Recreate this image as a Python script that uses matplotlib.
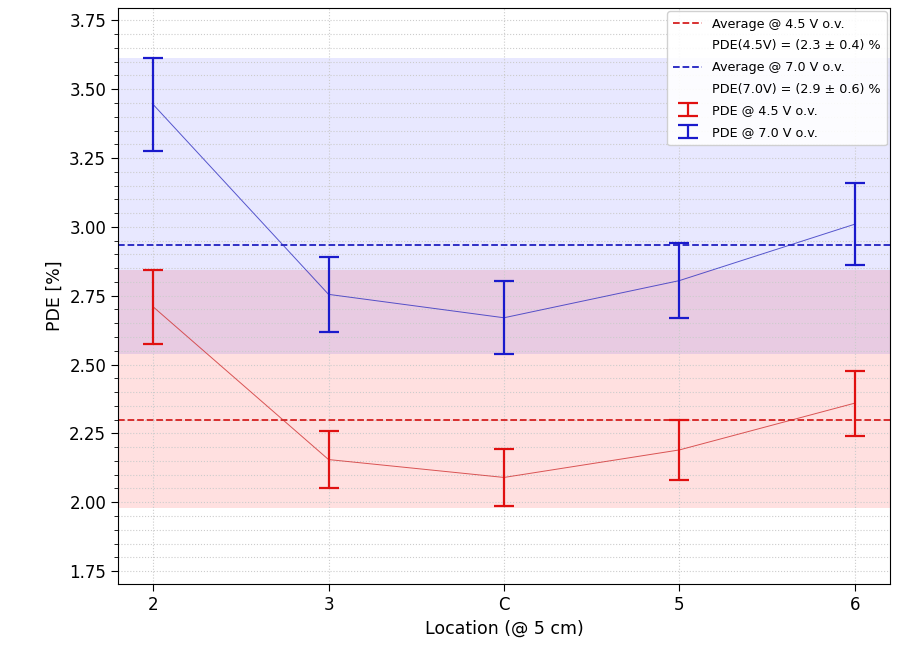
import matplotlib
matplotlib.use("Agg")
import matplotlib.pyplot as plt
from matplotlib.ticker import MultipleLocator
import numpy as np

locations = ["2", "3", "C", "5", "6"]
pde_45 = [2.71, 2.155, 2.09, 2.19, 2.36]
err_45 = [0.135, 0.103, 0.105, 0.11, 0.118]
pde_70 = [3.445, 2.755, 2.67, 2.805, 3.01]
err_70 = [0.17, 0.135, 0.133, 0.137, 0.149]
avg_45 = 2.30
avg_70 = 2.935
label_avg_45 = "PDE(4.5V) = (2.3 ± 0.4) %"
label_avg_70 = "PDE(7.0V) = (2.9 ± 0.6) %"

x = np.arange(len(locations))
p45 = np.array(pde_45); e45 = np.array(err_45)
p70 = np.array(pde_70); e70 = np.array(err_70)

fig = plt.figure(figsize=(9.04, 6.52), dpi=100)
ax = fig.add_axes([0.1305, 0.1043, 0.854, 0.8834])

ax.axhspan((p45 - e45).min() - 0.005, (p45 + e45).max(), color="red", alpha=0.12, lw=0, zorder=0)
ax.axhspan((p70 - e70).min(), (p70 + e70).max(), color="blue", alpha=0.09, lw=0, zorder=0)

h1 = ax.axhline(avg_45, color="#d62020", ls="--", lw=1.3, label="Average @ 4.5 V o.v.")
h2, = ax.plot([], [], color="none", label=label_avg_45)
h3 = ax.axhline(avg_70, color="#2020c0", ls="--", lw=1.3, label="Average @ 7.0 V o.v.")
h4, = ax.plot([], [], color="none", label=label_avg_70)

ax.plot(x, p45, color="#d03030", lw=0.7, alpha=0.8)
ax.plot(x, p70, color="#3030c0", lw=0.7, alpha=0.8)
h5 = ax.errorbar(x, p45, yerr=e45, fmt="none", ecolor="#e01010", elinewidth=1.6, capsize=7, capthick=1.6, label="PDE @ 4.5 V o.v.")
h6 = ax.errorbar(x, p70, yerr=e70, fmt="none", ecolor="#1a1acc", elinewidth=1.6, capsize=7, capthick=1.6, label="PDE @ 7.0 V o.v.")

ax.set_xlim(-0.2, 4.2)
ax.set_ylim(1.703, 3.795)
ax.set_xticks(x)
ax.set_xticklabels(locations)
ax.yaxis.set_major_locator(MultipleLocator(0.25))
ax.yaxis.set_minor_locator(MultipleLocator(0.05))
ax.tick_params(axis="both", which="major", labelsize=12, length=5)
ax.tick_params(axis="y", which="minor", length=3)
ax.grid(True, which="both", ls=":", color="#cccccc", lw=0.8)
ax.set_axisbelow(True)
ax.set_xlabel("Location (@ 5 cm)", fontsize=12.5)
ax.set_ylabel("PDE [%]", fontsize=12.5)

leg = ax.legend(handles=[h1, h2, h3, h4, h5, h6], loc="upper right", fontsize=9.2,
                framealpha=0.9, handlelength=2.2, borderpad=0.5, labelspacing=0.68,
                borderaxespad=0.25)

fig.savefig("out.png", dpi=100)
